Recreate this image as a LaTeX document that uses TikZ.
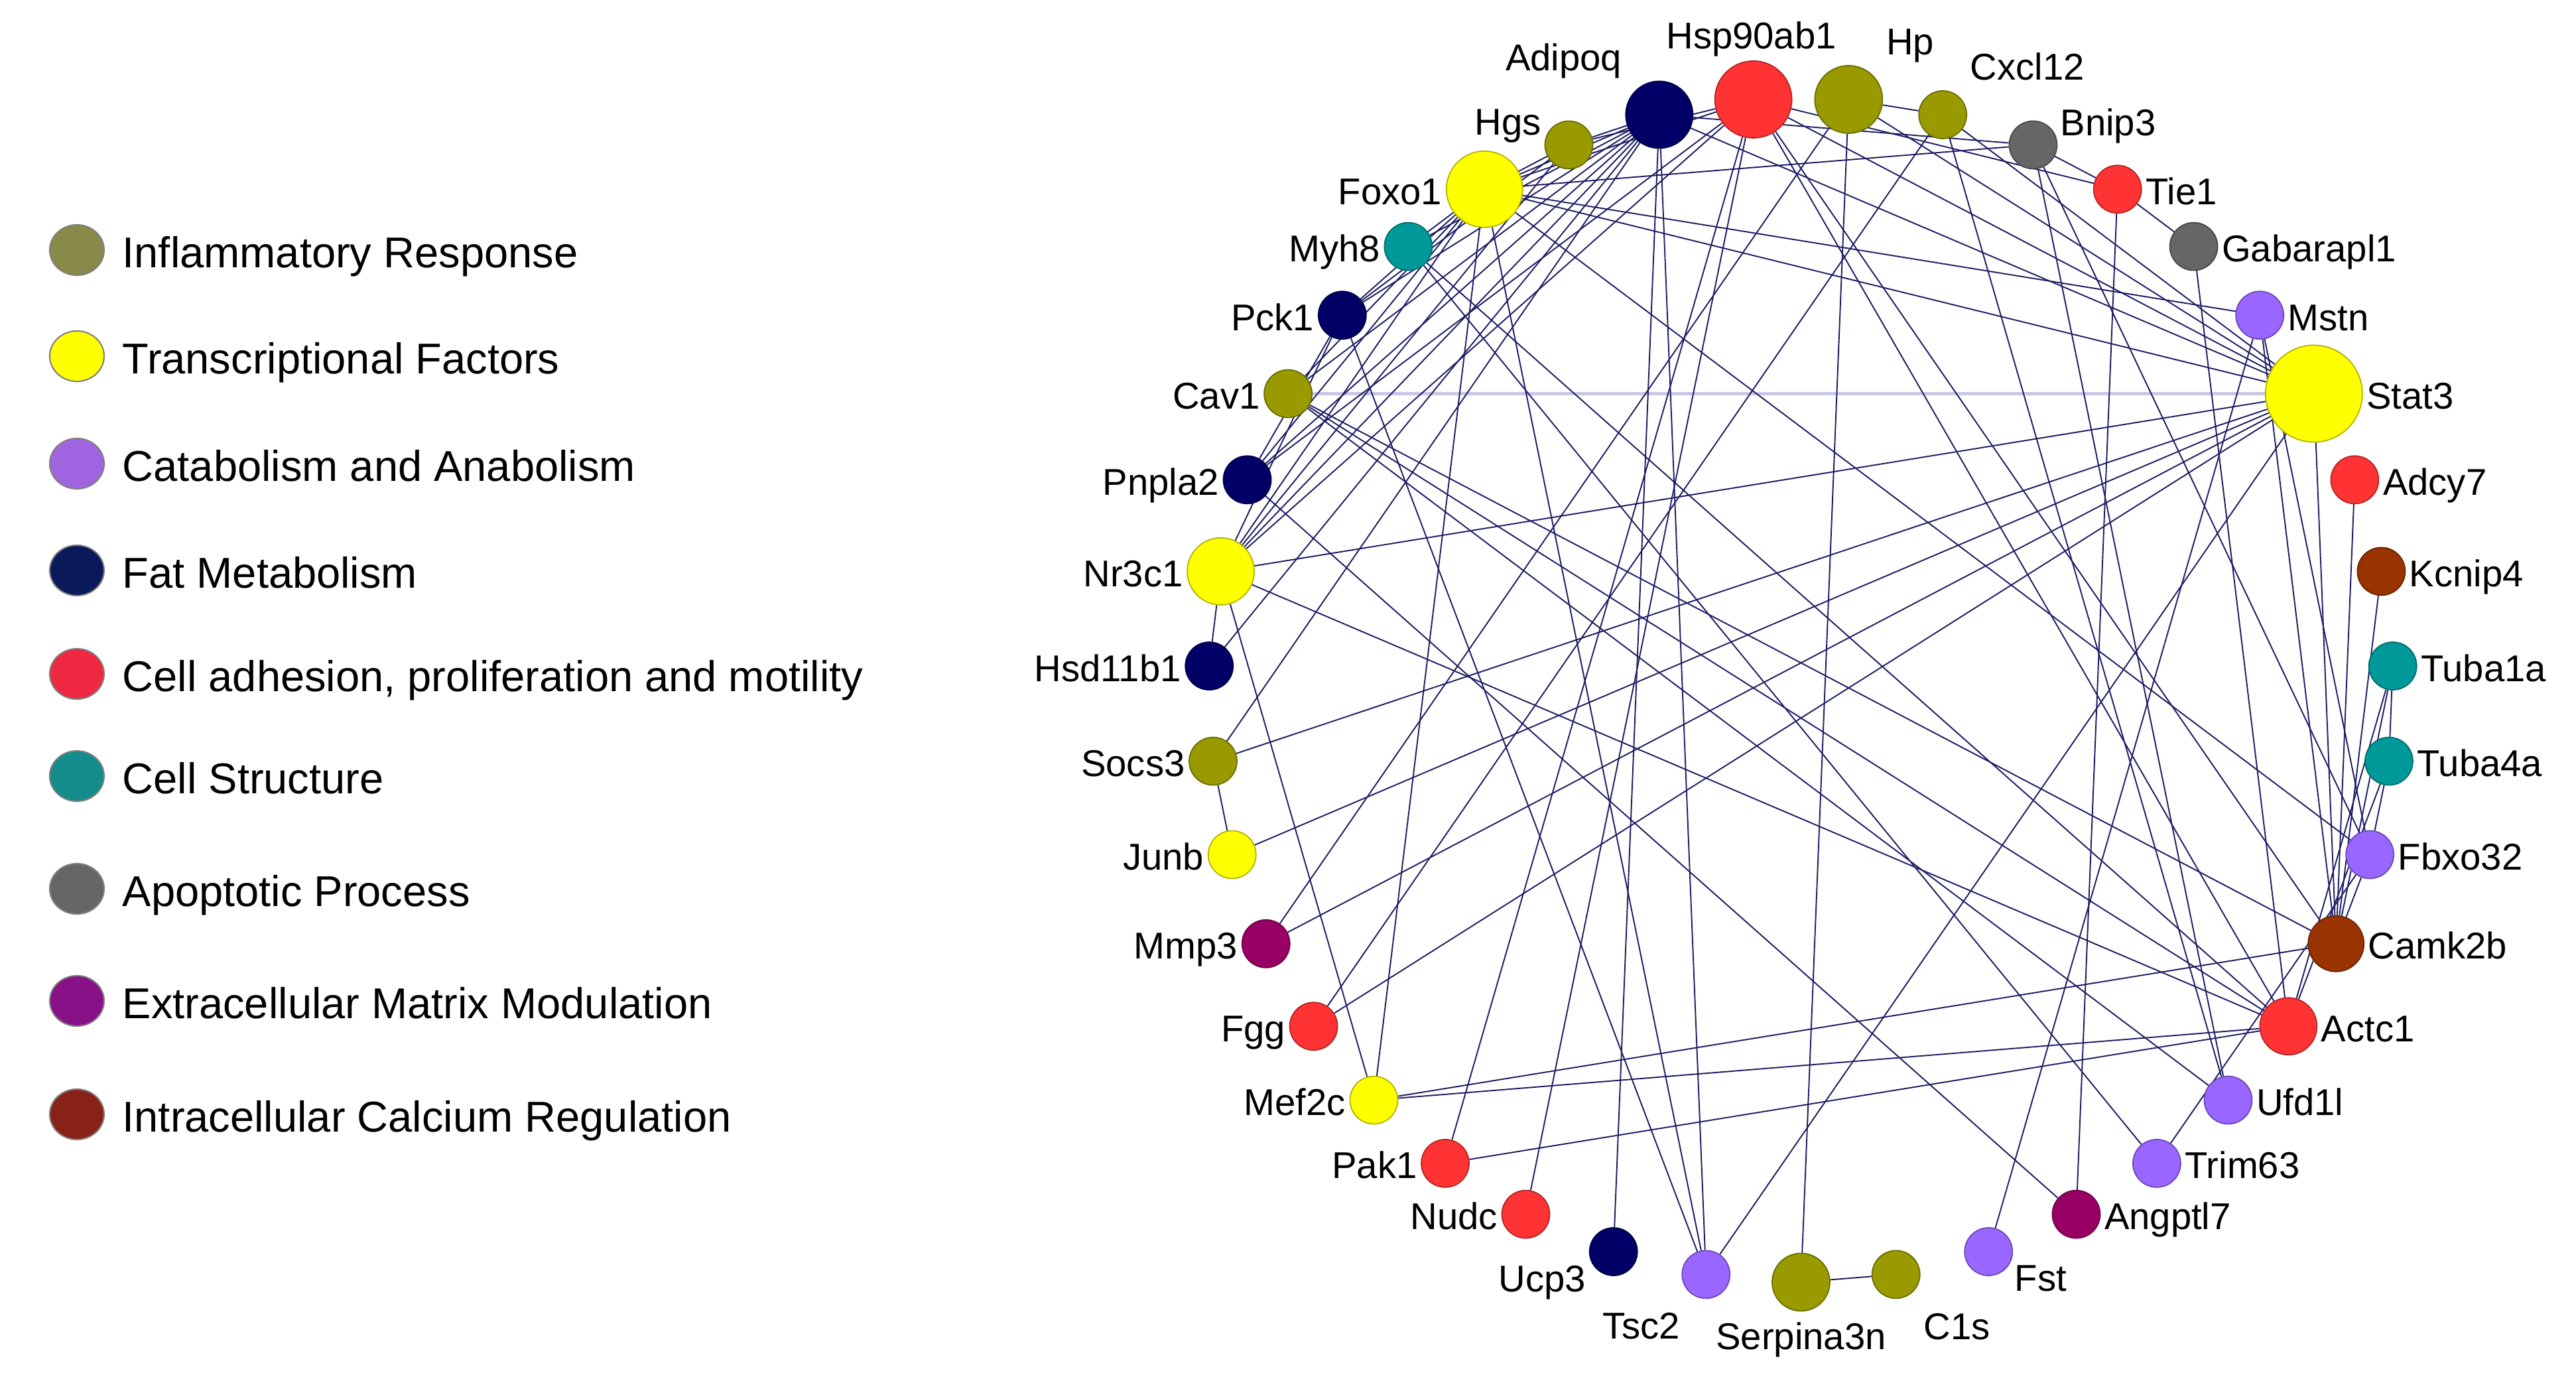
\documentclass[tikz,border=0pt]{standalone}
\usepackage{fontspec}
\setmainfont{Liberation Sans}
\usetikzlibrary{positioning,shapes.geometric,backgrounds}

% node colours
\definecolor{inflam}{RGB}{153,153,0}
\definecolor{transc}{RGB}{255,255,0}
\definecolor{catab}{RGB}{153,102,255}
\definecolor{fatmet}{RGB}{0,0,102}
\definecolor{celladh}{RGB}{255,51,51}
\definecolor{cellstr}{RGB}{0,153,153}
\definecolor{apopt}{RGB}{102,102,102}
\definecolor{ecm}{RGB}{153,0,102}
\definecolor{calc}{RGB}{153,51,0}
% legend colours
\definecolor{inflamL}{RGB}{135,138,72}
\definecolor{catabL}{RGB}{160,100,225}
\definecolor{fatmetL}{RGB}{10,25,90}
\definecolor{celladhL}{RGB}{238,40,64}
\definecolor{cellstrL}{RGB}{20,140,140}
\definecolor{ecmL}{RGB}{136,17,136}
\definecolor{calcL}{RGB}{136,34,24}
% edges
\definecolor{netblue}{RGB}{30,30,100}
\definecolor{softedge}{RGB}{200,200,228}

\tikzstyle{vertex}=[draw,circle,line width=0.5pt,inner sep=0pt]
\tikzstyle{edge} = [draw,line width=0.55pt,netblue]
\tikzstyle{gene} = [inner sep=0pt,font=\fontsize{16}{19}\selectfont]
\tikzstyle{legdot}=[draw=gray,ellipse,line width=0.6pt,minimum width=0.82cm,minimum height=0.76cm,inner sep=0pt]
\tikzstyle{legtext}=[inner sep=0pt,font=\fontsize{18.5}{22}\selectfont]
\newcommand{\netradius}{8.93}

\begin{document}
\begin{tikzpicture}
    \useasboundingbox (-27.155,-10.39) rectangle (11.685,10.40);

    % First we draw the vertices on the circle
    \foreach \name/\k/\col/\size in {Serpina3n/0/inflam/0.87cm, C1s/1/inflam/0.72cm, Fst/2/catab/0.72cm,
        Angptl7/3/ecm/0.72cm, Trim63/4/catab/0.72cm, Ufd1l/5/catab/0.72cm, Actc1/6/celladh/0.86cm,
        Camk2b/7/calc/0.84cm, Fbxo32/8/catab/0.72cm, Tuba4a/9/cellstr/0.72cm, Tuba1a/10/cellstr/0.72cm,
        Kcnip4/11/calc/0.72cm, Adcy7/12/celladh/0.72cm, Stat3/13/transc/1.46cm, Mstn/14/catab/0.72cm,
        Gabarapl1/15/apopt/0.72cm, Tie1/16/celladh/0.72cm, Bnip3/17/apopt/0.72cm, Cxcl12/18/inflam/0.72cm,
        Hp/19/inflam/1.02cm, Hsp90ab1/20/celladh/1.16cm, Adipoq/21/fatmet/1.01cm, Hgs/22/inflam/0.72cm,
        Foxo1/23/transc/1.15cm, Myh8/24/cellstr/0.72cm, Pck1/25/fatmet/0.72cm, Cav1/26/inflam/0.72cm,
        Pnpla2/27/fatmet/0.72cm, Nr3c1/28/transc/1.01cm, Hsd11b1/29/fatmet/0.72cm, Socs3/30/inflam/0.72cm,
        Junb/31/transc/0.72cm, Mmp3/32/ecm/0.72cm, Fgg/33/celladh/0.72cm, Mef2c/34/transc/0.72cm,
        Pak1/35/celladh/0.72cm, Nudc/36/celladh/0.72cm, Ucp3/37/fatmet/0.72cm, Tsc2/38/catab/0.72cm}
        \node[vertex,fill=\col,draw=\col!70!black,minimum size=\size] (\name) at ({-90+\k*360/39}:\netradius) {};

    % gene names
    \foreach \name in {Foxo1,Myh8,Pck1,Cav1,Pnpla2,Nr3c1,Hsd11b1,Socs3,Junb,Mmp3,Fgg,Mef2c,Pak1,Nudc}
        \node[gene,left=0.05cm of \name,anchor=base east,yshift=-0.23cm] (l\name) {\name};
    \foreach \name in {Tie1,Gabarapl1,Mstn,Stat3,Adcy7,Kcnip4,Tuba1a,Tuba4a,Fbxo32,Camk2b,Actc1,Ufd1l,Trim63,Angptl7}
        \node[gene,right=0.05cm of \name,anchor=base west,yshift=-0.23cm] (l\name) {\name};
    \foreach \name/\anc/\dx/\dy in {Hsp90ab1/base/-0.03/0.76, Adipoq/base east/-0.56/0.66, Hgs/base east/-0.41/0.15,
        Hp/base west/0.56/0.67, Cxcl12/base west/0.41/0.52, Bnip3/base west/0.405/0.14,
        Ucp3/base east/-0.41/-0.60, Tsc2/base east/-0.39/-0.97, Serpina3n/base/0/-1.02,
        C1s/base west/0.415/-0.98, Fst/base west/0.39/-0.59}
        \node[gene,anchor=\anc] (l\name) at ([shift={(\dx,\dy)}]\name.center) {\name};

    % legend
    \foreach \i/\y/\col/\txt in {1/6.63/inflamL/Inflammatory Response, 2/5.03/transc/Transcriptional Factors,
        3/3.41/catabL/Catabolism and Anabolism, 4/1.80/fatmetL/Fat Metabolism,
        5/0.24/celladhL/{Cell adhesion, proliferation and motility}, 6/-1.30/cellstrL/Cell Structure,
        7/-3.00/apopt/Apoptotic Process, 8/-4.69/ecmL/Extracellular Matrix Modulation,
        9/-6.40/calcL/Intracellular Calcium Regulation}
    {
        \node[legdot,fill=\col] (leg\i) at (-25.995,\y) {};
        \node[legtext,right=0.26cm of leg\i,anchor=base west,yshift=-0.27cm] (legt\i) {\txt};
    }

    % Connect vertices with edges, behind the vertices
    \begin{scope}[on background layer]
        \fill[white] (-27.155,-10.39) rectangle (11.685,10.40);
        \path[edge,draw=softedge,line width=1.2pt] (Cav1) -- (Stat3);
        \foreach \source/\dest in {Stat3/Hp,Stat3/Cxcl12,Stat3/Hsp90ab1,Stat3/Adipoq,Stat3/Foxo1,Stat3/Nr3c1,
            Stat3/Socs3,Stat3/Junb,Stat3/Mmp3,Stat3/Fgg,Stat3/Tsc2,Stat3/Camk2b,
            Mstn/Foxo1,Mstn/Fst,Mstn/Fbxo32,Mstn/Camk2b,
            Gabarapl1/Tie1,Gabarapl1/Actc1,Tie1/Bnip3,Tie1/Hsp90ab1,Tie1/Angptl7,
            Bnip3/Adipoq,Bnip3/Foxo1,Bnip3/Fbxo32,Bnip3/Ufd1l,
            Cxcl12/Hp,Cxcl12/Ufd1l,Cxcl12/Fgg,Hp/Serpina3n,Hp/Mmp3,
            Hsp90ab1/Pak1,Hsp90ab1/Nudc,Hsp90ab1/Hgs,Hsp90ab1/Foxo1,Hsp90ab1/Camk2b,Hsp90ab1/Actc1,
            Hsp90ab1/Nr3c1,Hsp90ab1/Pnpla2,
            Adipoq/Ucp3,Adipoq/Tsc2,Adipoq/Socs3,Adipoq/Hsd11b1,Adipoq/Foxo1,Adipoq/Hgs,Adipoq/Myh8,
            Adipoq/Pck1,Adipoq/Cav1,Adipoq/Pnpla2,Adipoq/Nr3c1,
            Hgs/Foxo1,Hgs/Pck1,Hgs/Nr3c1,
            Foxo1/Tsc2,Foxo1/Mef2c,Foxo1/Fbxo32,Foxo1/Myh8,Foxo1/Pck1,Foxo1/Cav1,Foxo1/Pnpla2,Foxo1/Nr3c1,
            Myh8/Actc1,Myh8/Trim63,Pck1/Tsc2,Pck1/Pnpla2,Pck1/Nr3c1,
            Cav1/Camk2b,Cav1/Actc1,Cav1/Ufd1l,Pnpla2/Angptl7,
            Nr3c1/Hsd11b1,Nr3c1/Mef2c,Nr3c1/Actc1,Socs3/Junb,
            Mef2c/Camk2b,Mef2c/Actc1,Pak1/Actc1,Serpina3n/C1s,
            Camk2b/Adcy7,Camk2b/Kcnip4,Camk2b/Tuba1a,Camk2b/Fbxo32,
            Actc1/Tuba1a,Actc1/Tuba4a,Tuba1a/Tuba4a,Fbxo32/Tuba4a,Fbxo32/Trim63}
            \path[edge] (\source) -- (\dest);
    \end{scope}
\end{tikzpicture}
\end{document}
